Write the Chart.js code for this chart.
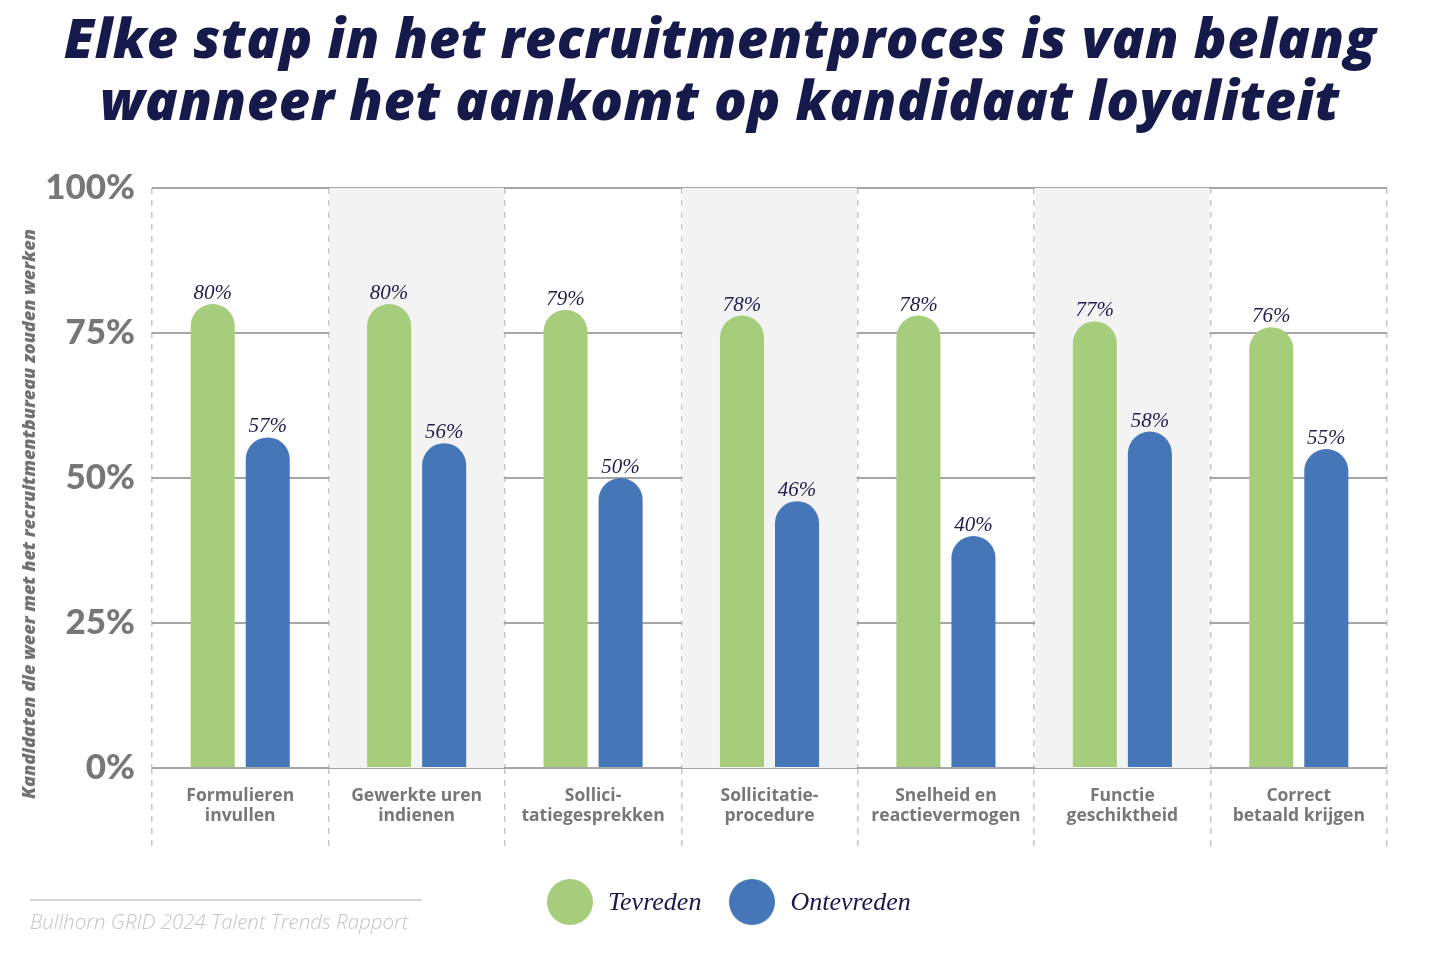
<!DOCTYPE html>
<html lang="nl">
<head>
<meta charset="utf-8">
<title>Elke stap in het recruitmentproces</title>
<script src="https://cdn.jsdelivr.net/npm/chart.js@4.4.1/dist/chart.umd.min.js"></script>
<style>
  html, body { margin: 0; padding: 0; background: #fff; }
  body { width: 1440px; height: 956px; position: relative; overflow: hidden; }
  .title {
    position: absolute; left: 0; top: 6px; width: 1440px;
    text-align: center; color: #161a4a;
    font-family: 'Open Sans', sans-serif; font-weight: 800; font-style: italic;
    font-size: 54px; line-height: 62px; letter-spacing: 0.6px;
  }
  .chart-box { position: absolute; left: 0; top: 0; width: 1440px; height: 956px; }
  .y-title {
    position: absolute; left: 28px; top: 514px;
    transform: translate(-50%, -50%) rotate(-90deg);
    white-space: nowrap; color: #707070;
    font-family: 'Open Sans', sans-serif; font-weight: 800; font-style: italic; font-size: 18px;
  }
  .legend { position: absolute; top: 879px; left: 547px; display: flex; align-items: center; }
  .legend .dot { width: 46px; height: 46px; border-radius: 50%; display: inline-block; }
  .legend .txt {
    font-family: 'Liberation Serif', serif; font-style: italic; font-size: 26px;
    color: #161a4a; margin-left: 15px; margin-right: 28px;
  }
  .source-line { position: absolute; left: 30px; top: 899px; width: 392px; height: 2px; background: #d4d4d4; }
  .source {
    position: absolute; left: 30px; top: 907px; color: #c4c4c4;
    font-family: 'Open Sans', sans-serif; font-weight: 300; font-style: italic; font-size: 20.5px;
  }
</style>
</head>
<body>
<div class="title">Elke stap in het recruitmentproces is van belang<br>wanneer het aankomt op kandidaat loyaliteit</div>
<div class="chart-box"><canvas id="chart"></canvas></div>
<div class="y-title">Kandidaten die weer met het recruitmentbureau zouden werken</div>
<div class="legend">
  <span class="dot" style="background:#a6cd7c"></span><span class="txt">Tevreden</span>
  <span class="dot" style="background:#4577b8"></span><span class="txt">Ontevreden</span>
</div>
<div class="source-line"></div>
<div class="source">Bullhorn GRID 2024 Talent Trends Rapport</div>

<script>
// data
const categories = [
    ['Formulieren', 'invullen'],
    ['Gewerkte uren', 'indienen'],
    ['Sollici-', 'tatiegesprekken'],
    ['Sollicitatie-', 'procedure'],
    ['Snelheid en', 'reactievermogen'],
    ['Functie', 'geschiktheid'],
    ['Correct', 'betaald krijgen']
];
const tevreden = [80, 80, 79, 78, 78, 77, 76];
const ontevreden = [57, 56, 50, 46, 40, 58, 55];
const yTicks = [0, 25, 50, 75, 100];

const GREEN = '#a6cd7c';
const BLUE = '#4577b8';

// grey band behind every second category
const bandPlugin = {
    id: 'bands',
    beforeDatasetsDraw(chart) {
        const { ctx, chartArea, scales } = chart;
        const x = scales.x;
        const half = (x.getPixelForValue(1) - x.getPixelForValue(0)) / 2;
        ctx.save();
        ctx.fillStyle = '#f3f3f3';
        categories.forEach((c, i) => {
            if (i % 2 === 1) {
                const cx = x.getPixelForValue(i);
                ctx.fillRect(cx - half + 1, chartArea.top, half * 2 - 2, chartArea.bottom - chartArea.top);
            }
        });
        ctx.restore();
    }
};

// percentage labels above each bar
const valueLabels = {
    id: 'valueLabels',
    afterDatasetsDraw(chart) {
        const { ctx } = chart;
        ctx.save();
        ctx.font = 'italic 21px "Liberation Serif", serif';
        ctx.fillStyle = '#1c1f4d';
        ctx.textAlign = 'center';
        ctx.textBaseline = 'alphabetic';
        chart.data.datasets.forEach((ds, di) => {
            chart.getDatasetMeta(di).data.forEach((bar, i) => {
                ctx.fillText(ds.data[i] + '%', bar.x, bar.y - 5);
            });
        });
        ctx.restore();
    }
};

new Chart(document.getElementById('chart'), {
    type: 'bar',
    data: {
        labels: categories,
        datasets: [
            { label: 'Tevreden', data: tevreden, backgroundColor: GREEN },
            { label: 'Ontevreden', data: ontevreden, backgroundColor: BLUE }
        ]
    },
    options: {
        responsive: true,
        maintainAspectRatio: false,
        animation: false,
        layout: { padding: { top: 188, right: 53, left: 0, bottom: 0 } },
        datasets: {
            bar: {
                categoryPercentage: 0.624,
                barPercentage: 0.8,
                borderRadius: 22,
                borderSkipped: 'start'
            }
        },
        plugins: {
            legend: { display: false },
            tooltip: { enabled: false }
        },
        scales: {
            x: {
                grid: {
                    color: '#c6c6c6',
                    lineWidth: 1.5,
                    tickLength: 82,
                    tickBorderDash: [6, 6],
                    tickColor: '#c6c6c6',
                    tickWidth: 1.5
                },
                border: { display: false, dash: [6, 6] },
                ticks: {
                    padding: -64,
                    color: '#777',
                    font: { family: 'Open Sans', size: 17.5, weight: 700, lineHeight: 1.15 }
                },
                afterFit(scale) { scale.height = 188; }
            },
            y: {
                min: 0,
                max: 100,
                afterBuildTicks(scale) { scale.ticks = yTicks.map(v => ({ value: v })); },
                grid: { color: '#a6a6a6', lineWidth: 2, drawTicks: false },
                border: { display: false },
                ticks: {
                    padding: 17,
                    color: '#777',
                    font: { family: 'Lato', size: 35, weight: 900 },
                    callback: v => v + '%'
                },
                afterFit(scale) { scale.width = 152; }
            }
        }
    },
    plugins: [bandPlugin, valueLabels]
});
</script>
</body>
</html>
